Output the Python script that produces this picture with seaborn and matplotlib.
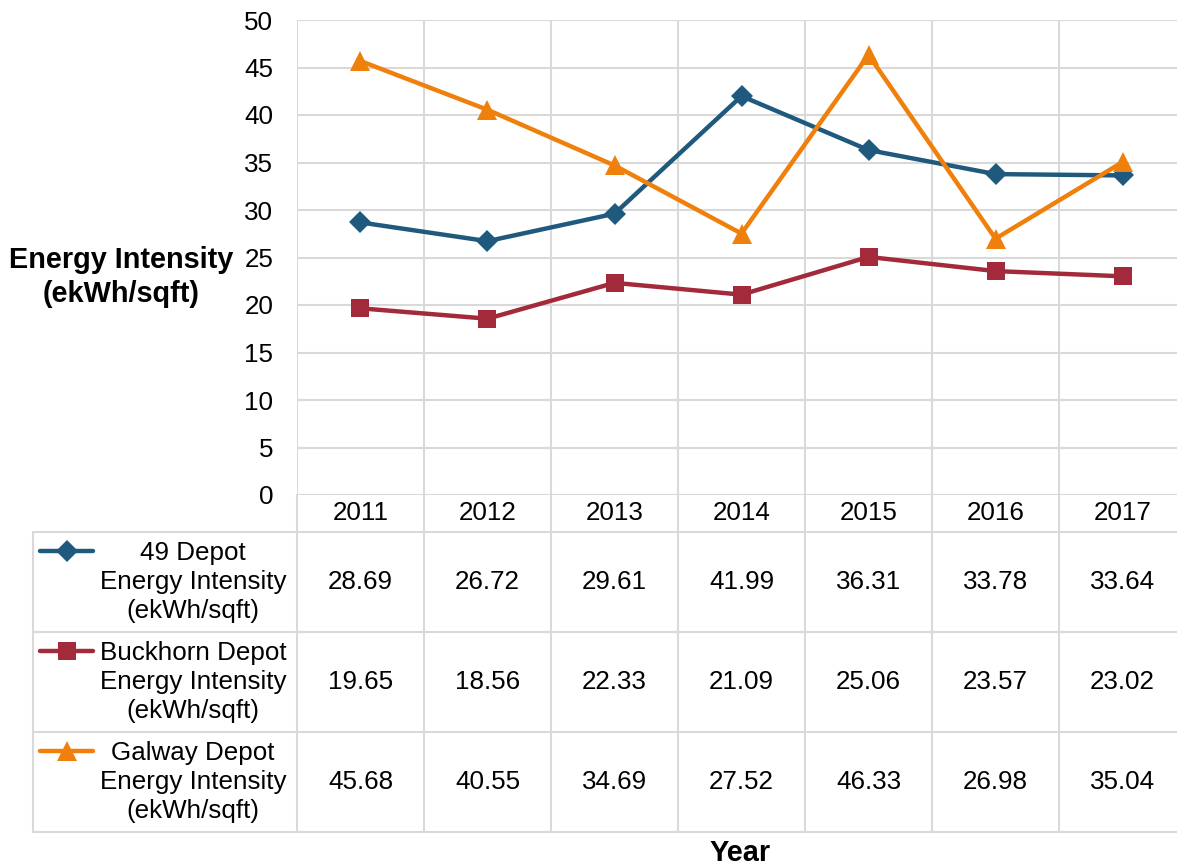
import numpy as np
import pandas as pd
import matplotlib.pyplot as plt
import seaborn as sns
from matplotlib.lines import Line2D

years = ["2011", "2012", "2013", "2014", "2015", "2016", "2017"]
depot_49 = [28.69, 26.72, 29.61, 41.99, 36.31, 33.78, 33.64]
buckhorn = [19.65, 18.56, 22.33, 21.09, 25.06, 23.57, 23.02]
galway = [45.68, 40.55, 34.69, 27.52, 46.33, 26.98, 35.04]
series_names = ["49 Depot\nEnergy Intensity\n(ekWh/sqft)",
                "Buckhorn Depot\nEnergy Intensity\n(ekWh/sqft)",
                "Galway Depot\nEnergy Intensity\n(ekWh/sqft)"]
colors = ["#1F5A7E", "#A32A3A", "#F0800C"]
markers = ["D", "s", "^"]
msizes = [11, 13, 15]

sns.set_theme(style="white")
plt.rcParams["font.family"] = ["Liberation Sans", "DejaVu Sans"]
plt.rcParams["text.color"] = "black"
FS = 18.7
FS_BOLD = 20.8
GRID = "#d9d9d9"

rows = []
for name, vals in zip(series_names, [depot_49, buckhorn, galway]):
    for i, v in enumerate(vals):
        rows.append({"pos": i, "value": v, "series": name})
df = pd.DataFrame(rows)

W, H = 1177, 867
fig = plt.figure(figsize=(W / 100, H / 100), dpi=100)


def px_ax(l, t, r, b):
    return fig.add_axes([l / W, 1 - b / H, (r - l) / W, (b - t) / H])


# main chart
ax = px_ax(297, 20, 1186, 495)
sns.lineplot(data=df, x="pos", y="value", hue="series", style="series",
             palette=colors, markers=markers, dashes=False, linewidth=3.2,
             markeredgewidth=0, legend=False, ax=ax)
for ln, ms in zip(ax.lines, msizes):
    ln.set_markersize(ms)
    ln.set_clip_on(False)
    ln.set_zorder(3)

ax.set_xlim(-0.5, len(years) - 0.5)
ax.set_ylim(0, 50)
ax.set_yticks(np.arange(0, 51, 5))
ax.set_xticks([])
ax.set_xticks(np.arange(len(years) + 1) - 0.5, minor=True)
ax.grid(True, which="major", axis="y", color=GRID, lw=1.5)
ax.grid(True, which="minor", axis="x", color=GRID, lw=1.5)
ax.tick_params(axis="y", length=0, pad=17, labelsize=FS, labelcolor="black")
ax.tick_params(axis="x", which="both", length=0)
ax.set_xlabel("")
ax.set_ylabel("")
for s in ax.spines.values():
    s.set_visible(False)
ax.set_axisbelow(True)

# data table below
col_w = (1186 - 297) / len(years)
x0 = -0.5 - (297 - 33) / col_w
tab = px_ax(33, 495, 1186, 832)
tab.set_xlim(x0, len(years) - 0.5)
tab.set_ylim(337, 0)
tab.axis("off")


def tx(p):
    return x0 + (p - 33) / col_w


hdr = 37
row_h = 100
for k in range(len(series_names) + 1):
    tab.plot([x0, len(years) - 0.5], [hdr + k * row_h] * 2, color=GRID, lw=1.5, clip_on=False)
tab.plot([x0, x0], [hdr, 337], color=GRID, lw=1.5, clip_on=False)
for b in np.arange(len(years) + 1) - 0.5:
    tab.plot([b, b], [0, 337], color=GRID, lw=1.5, clip_on=False)

for i, yr in enumerate(years):
    tab.text(i, hdr / 2, yr, ha="center", va="center", fontsize=FS, color="black")

for r, (name, vals) in enumerate(zip(series_names, [depot_49, buckhorn, galway])):
    yc = hdr + r * row_h + row_h / 2
    tab.text(tx(193), yc, name, ha="center", va="center", fontsize=FS,
             multialignment="center", linespacing=1.28, color="black")
    ly = yc - 31
    tab.add_line(Line2D([tx(40), tx(66.5), tx(93)], [ly, ly, ly], color=colors[r], lw=3.2,
                        marker=markers[r], markersize=msizes[r], markevery=[1],
                        markeredgewidth=0, clip_on=False, solid_capstyle="round"))
    for i, v in enumerate(vals):
        tab.text(i, yc, f"{v:.2f}", ha="center", va="center", fontsize=FS, color="black")

fig.text(121 / W, 1 - 277 / H, "Energy Intensity\n(ekWh/sqft)", ha="center", va="center",
         fontsize=FS_BOLD, fontweight="bold", linespacing=1.3, color="black")
fig.text(740 / W, 1 - 853 / H, "Year", ha="center", va="center", fontsize=FS_BOLD,
         fontweight="bold", color="black")

fig.savefig("out.png", dpi=100, facecolor="white")
